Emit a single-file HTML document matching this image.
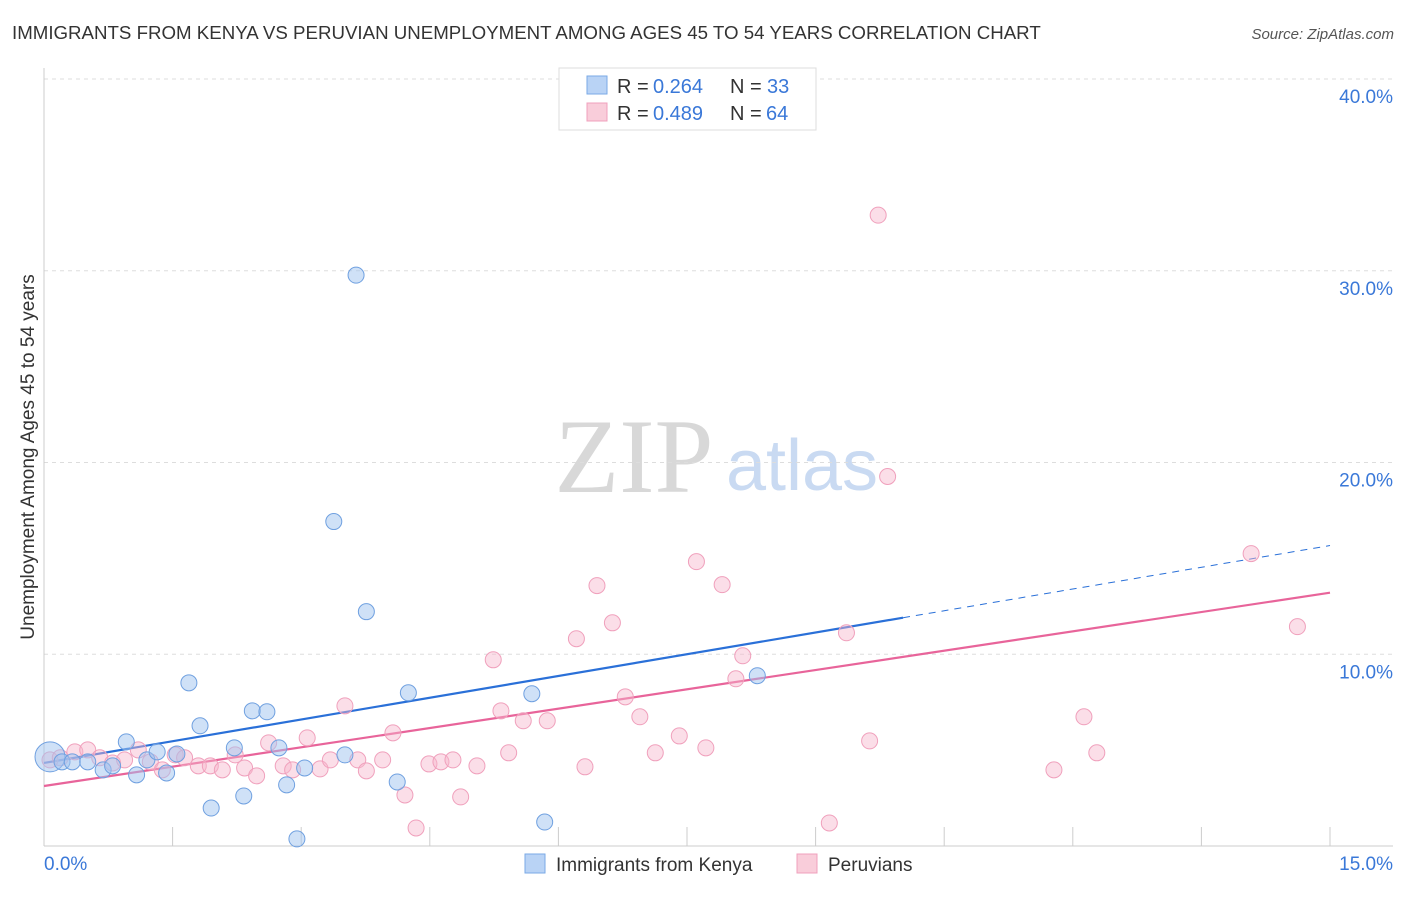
<!DOCTYPE html>
<html><head><meta charset="utf-8"><style>
body{margin:0;background:#fff;font-family:"Liberation Sans",sans-serif;}
</style></head><body>
<svg id="chart" width="1406" height="892" viewBox="0 0 1406 892" xmlns="http://www.w3.org/2000/svg" font-family="Liberation Sans, sans-serif">
<text x="12" y="39" font-size="18.7" fill="#333">IMMIGRANTS FROM KENYA VS PERUVIAN UNEMPLOYMENT AMONG AGES 45 TO 54 YEARS CORRELATION CHART</text>
<text x="1394" y="39" font-size="15" fill="#555" text-anchor="end" font-style="italic">Source: ZipAtlas.com</text>
<g>
<text x="634" y="492" font-size="106" fill="#d8d8d8" text-anchor="middle" style="font-family:'Liberation Serif',serif">ZIP</text>
<text x="802" y="490" font-size="72" fill="#c9daf2" text-anchor="middle">atlas</text>
</g>
<g id="grid"></g>
<g id="axes"></g>
<g id="lines"></g>
<g id="points"></g>
<text transform="translate(34,457) rotate(-90)" font-size="19" fill="#333" text-anchor="middle">Unemployment Among Ages 45 to 54 years</text>
<text x="44" y="870" font-size="19" fill="#3a78d8">0.0%</text>
<text x="1393" y="870" font-size="19" fill="#3a78d8" text-anchor="end">15.0%</text>
<g>
<rect x="559" y="68" width="257" height="62" fill="#fff" stroke="#ddd"/>
<rect x="587" y="76" width="20" height="18" fill="#b9d3f5" stroke="#7aaae6"/>
<text x="617" y="93" font-size="20" fill="#333">R =</text>
<text x="653" y="93" font-size="20" fill="#3a78d8">0.264</text>
<text x="730" y="93" font-size="20" fill="#333">N =</text>
<text x="767" y="93" font-size="20" fill="#3a78d8">33</text>
<rect x="587" y="103" width="20" height="18" fill="#f9cdda" stroke="#f0a0bc"/>
<text x="617" y="120" font-size="20" fill="#333">R =</text>
<text x="653" y="120" font-size="20" fill="#3a78d8">0.489</text>
<text x="730" y="120" font-size="20" fill="#333">N =</text>
<text x="766" y="120" font-size="20" fill="#3a78d8">64</text>
</g>
<g>
<rect x="525" y="854" width="20" height="19" fill="#b9d3f5" stroke="#7aaae6"/>
<text x="556" y="871" font-size="19" fill="#333">Immigrants from Kenya</text>
<rect x="797" y="854" width="20" height="19" fill="#f9cdda" stroke="#f0a0bc"/>
<text x="828" y="871" font-size="19" fill="#333">Peruvians</text>
</g>
</svg>
<script>
const yTicks=[10,20,30,40];
const yTickLabels=["10.0%","20.0%","30.0%","40.0%"];
const xTicks=[0,1.5,3,4.5,6,7.5,9,10.5,12,13.5,15];
const kenyaX=[0.07,0.21,0.33,0.51,0.69,0.80,0.96,1.08,1.20,1.32,1.43,1.55,1.69,1.82,1.95,2.22,2.33,2.43,2.60,2.74,2.83,2.95,3.04,3.38,3.51,3.64,3.76,4.12,4.25,5.69,5.84,8.32];
const kenyaY=[4.65,4.39,4.39,4.39,3.97,4.18,5.43,3.71,4.49,4.91,3.81,4.80,8.51,6.27,1.98,5.12,2.61,7.05,7.00,5.12,3.19,0.37,4.07,16.92,4.75,29.77,12.22,3.34,7.99,7.94,1.25,8.88];
const peruX=[0.07,0.19,0.36,0.51,0.65,0.80,0.94,1.10,1.24,1.38,1.53,1.64,1.80,1.94,2.08,2.23,2.34,2.48,2.62,2.79,2.90,3.07,3.22,3.34,3.51,3.66,3.76,3.95,4.07,4.21,4.34,4.49,4.63,4.77,4.86,5.05,5.24,5.33,5.42,5.59,5.87,6.21,6.31,6.45,6.63,6.78,6.95,7.13,7.41,7.61,7.72,7.91,8.07,8.15,9.16,9.36,9.63,9.73,9.84,11.78,12.13,12.28,14.08,14.62];
const peruY=[4.49,4.60,4.91,5.01,4.60,4.33,4.49,5.01,4.39,3.97,4.75,4.60,4.18,4.18,3.97,4.75,4.07,3.66,5.38,4.18,3.97,5.64,4.02,4.49,7.31,4.49,3.92,4.49,5.90,2.66,0.94,4.28,4.39,4.49,2.56,4.18,9.71,7.05,4.86,6.53,6.53,10.81,4.13,13.58,11.64,7.78,6.74,4.86,5.74,14.83,5.12,13.63,8.72,9.92,1.20,11.12,5.48,32.90,19.27,3.97,6.74,4.86,15.25,11.44];
const kenyaTrend=[4.33,15.67];
const kenyaSolidEnd=10.02;
const peruTrend=[3.13,13.21];

const NS="http://www.w3.org/2000/svg";
function sx(v){return 44+v*(1330-44)/15;}
function sy(v){return 846-v*(846-79)/40;}
function mk(tag,attrs,parent){const e=document.createElementNS(NS,tag);for(const k in attrs)e.setAttribute(k,attrs[k]);document.getElementById(parent).appendChild(e);return e;}

yTicks.forEach((t,i)=>{
  const l=mk('line',{x1:44,x2:1393,y1:sy(t),y2:sy(t),stroke:'#ddd','stroke-dasharray':'4,4'},'grid');
  
  
  const tx=mk('text',{x:1393,y:sy(t)+24,'font-size':19,fill:'#3a78d8','text-anchor':'end'},'grid');
  tx.textContent=yTickLabels[i];
  
  
});
const ax=mk('line',{x1:44,x2:44,y1:68,y2:846,stroke:'#ccc'},'axes');


const bx=mk('line',{x1:44,x2:1393,y1:846,y2:846,stroke:'#ccc'},'axes');


xTicks.forEach(t=>{
  const l=mk('line',{x1:sx(t),x2:sx(t),y1:827,y2:846,stroke:'#ccc'},'axes');
  
  
});

function trendY(tr,x){return tr[0]+(tr[1]-tr[0])*x/15;}
let l1=mk('line',{x1:sx(0),y1:sy(trendY(kenyaTrend,0)),x2:sx(kenyaSolidEnd),y2:sy(trendY(kenyaTrend,kenyaSolidEnd)),stroke:'#2a70d8','stroke-width':2.2},'lines');


let l2=mk('line',{x1:sx(kenyaSolidEnd),y1:sy(trendY(kenyaTrend,kenyaSolidEnd)),x2:sx(15),y2:sy(trendY(kenyaTrend,15)),stroke:'#2a70d8','stroke-width':1,'stroke-dasharray':'7,6'},'lines');


let l3=mk('line',{x1:sx(0),y1:sy(trendY(peruTrend,0)),x2:sx(15),y2:sy(trendY(peruTrend,15)),stroke:'#e8649a','stroke-width':2.2},'lines');



peruX.forEach((x,i)=>{
  const c=mk('circle',{cx:sx(x),cy:sy(peruY[i]),r:8,fill:'rgba(246,182,204,0.45)',stroke:'#f0a0bc','stroke-width':1},'points');
  
  
});
kenyaX.forEach((x,i)=>{
  const c=mk('circle',{cx:sx(x),cy:sy(kenyaY[i]),r:i===0?15:8,fill:'rgba(160,196,240,0.5)',stroke:'#6fa0e0','stroke-width':1},'points');
  
  
});
</script>
</body></html>
